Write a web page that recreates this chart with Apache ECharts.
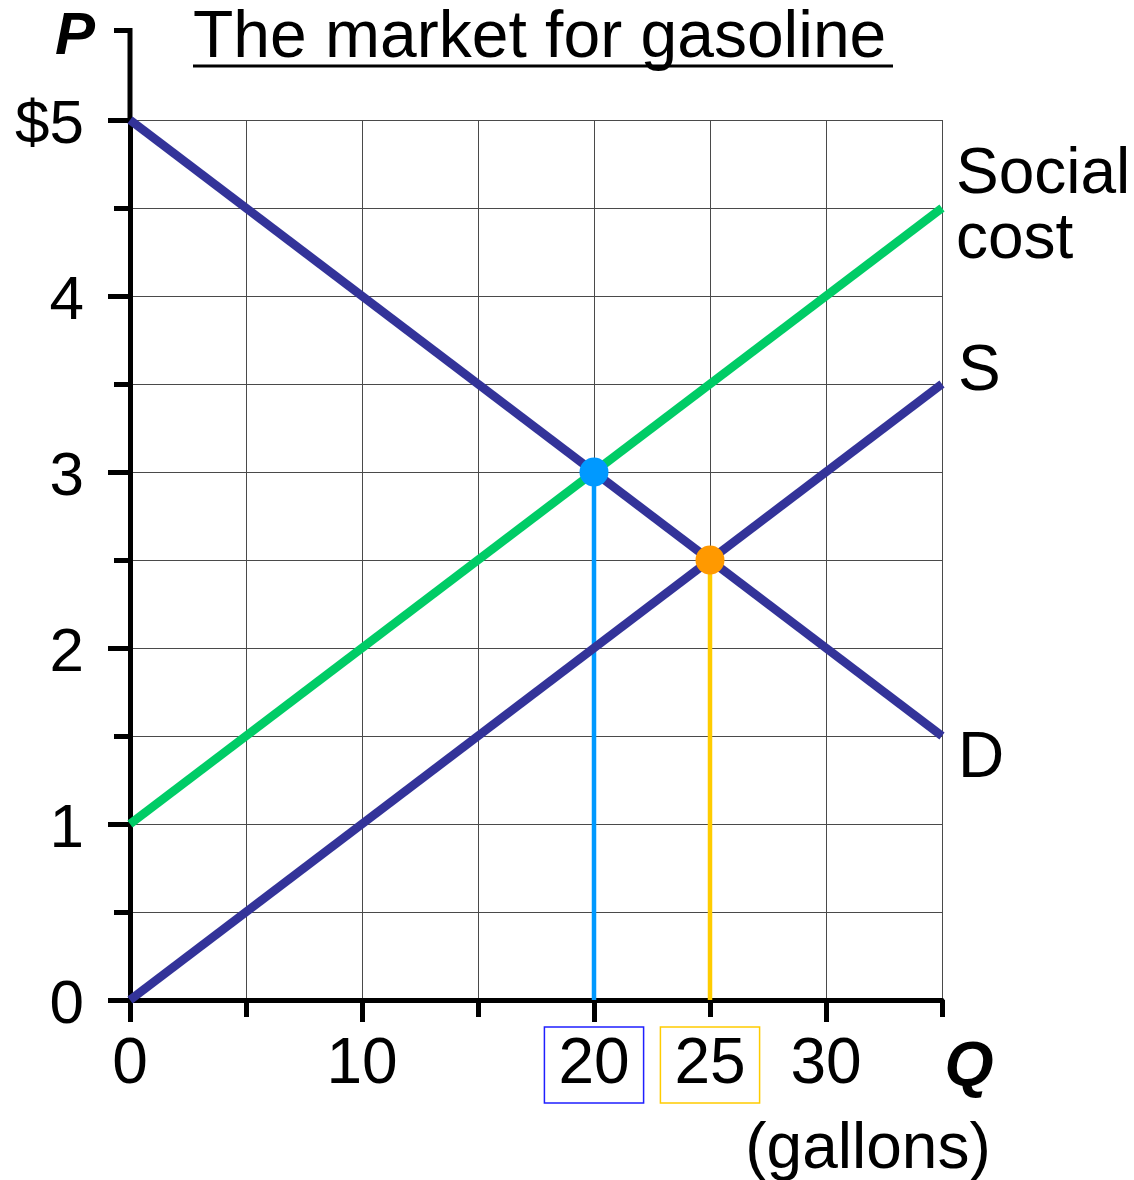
<!DOCTYPE html>
<html>
<head>
<meta charset="utf-8">
<script src="https://cdn.jsdelivr.net/npm/echarts@6/dist/echarts.min.js"></script>
<style>
html,body{margin:0;padding:0;background:#fff;}
#chart{width:1134px;height:1180px;}
</style>
</head>
<body>
<div id="chart"></div>
<script>
// ---- data ----
const titleText = 'The market for gasoline';
const qMin = 0, qMax = 35, qStep = 5;
const pMin = 0, pMax = 5, pStep = 1;
const qLabelValues = [0, 10, 20, 25, 30];
const qMajorTicks = [0, 10, 20, 30];
const pTickLabels = ['0', '1', '2', '3', '4', '$5'];
const demandQ = [0, 35];
const demandP = [5, 1.5];
const supplyQ = [0, 35];
const supplyP = [0, 3.5];
const socialQ = [0, 35];
const socialP = [1, 4.5];
const efficientPoint = [20, 3];
const marketPoint = [25, 2.5];
const curveNames = { social: 'Social\ncost', supply: 'S', demand: 'D' };

const FONT = '"Liberation Sans", Arial, Helvetica, sans-serif';
const pair = (xs, ys) => xs.map((x, i) => [x, ys[i]]);

const chart = echarts.init(document.getElementById('chart'), null, { renderer: 'canvas' });

const gridStyle = { color: '#4a4a4a', width: 1 };
const axisBlack = { color: '#000', width: 5 };

const option = {
  animation: false,
  backgroundColor: '#fff',
  grid: { left: 130, right: 192, top: 120, bottom: 180, containLabel: false },
  xAxis: [
    {
      type: 'value', min: qMin, max: qMax, interval: qStep,
      position: 'bottom',
      axisLine: { show: true, onZero: false, lineStyle: axisBlack },
      axisTick: { show: true, length: 17, lineStyle: axisBlack },
      splitLine: { show: true, lineStyle: gridStyle },
      axisLabel: {
        show: true, margin: 33, color: '#000',
        formatter: v => {
          if (!qLabelValues.includes(v)) return '';
          if (v === efficientPoint[0]) return '{b|' + v + '}';
          if (v === marketPoint[0]) return '{y|' + v + '}';
          return '{n|' + v + '}';
        },
        rich: {
          n: { fontSize: 64, fontFamily: FONT, color: '#000', lineHeight: 64, padding: [6, 14, 6, 14] },
          b: { fontSize: 64, fontFamily: FONT, color: '#000', lineHeight: 64, padding: [6, 14, 6, 14], borderColor: '#1f1fff', borderWidth: 1.5 },
          y: { fontSize: 64, fontFamily: FONT, color: '#000', lineHeight: 64, padding: [6, 14, 6, 14], borderColor: '#ffcc00', borderWidth: 1.5 }
        }
      }
    },
    {
      type: 'value', min: qMin, max: qMax, position: 'bottom', offset: 0,
      axisLine: { show: false },
      axisTick: { show: true, length: 22, lineStyle: axisBlack, customValues: qMajorTicks },
      axisLabel: { show: false },
      splitLine: { show: false }
    }
  ],
  yAxis: {
    type: 'value', min: pMin, max: pMax, interval: pStep,
    axisLine: { show: true, onZero: false, lineStyle: axisBlack },
    axisTick: { show: true, length: 22, lineStyle: axisBlack },
    minorTick: { show: true, splitNumber: 2, length: 16, lineStyle: axisBlack },
    splitLine: { show: true, lineStyle: gridStyle },
    minorSplitLine: { show: true, lineStyle: gridStyle },
    axisLabel: {
      show: true, margin: 46, color: '#000',
      formatter: v => '{p|' + (pTickLabels[Math.round(v)] || '') + '}',
      rich: {
        p: { fontSize: 62, fontFamily: FONT, color: '#000', lineHeight: 62, padding: [12, 0, 0, 0] }
      }
    }
  },
  series: [
    {
      type: 'line', data: pair([efficientPoint[0], efficientPoint[0]], [efficientPoint[1], 0]),
      symbol: 'none', clip: false, lineStyle: { color: '#0099ff', width: 4.5 }, z: 2
    },
    {
      type: 'line', data: pair([marketPoint[0], marketPoint[0]], [marketPoint[1], 0]),
      symbol: 'none', clip: false, lineStyle: { color: '#ffcc00', width: 4.5 }, z: 2
    },
    {
      type: 'line', data: pair(socialQ, socialP), symbol: 'none', clip: false,
      lineStyle: { color: '#00cc66', width: 8.5 }, z: 3,
      endLabel: { show: true, formatter: curveNames.social, distance: 14, color: '#000',
        fontSize: 64, lineHeight: 65, fontFamily: FONT, align: 'left' }
    },
    {
      type: 'line', data: pair(supplyQ, supplyP), symbol: 'none', clip: false,
      lineStyle: { color: '#333399', width: 8.5 }, z: 4,
      endLabel: { show: true, formatter: curveNames.supply, distance: 16, color: '#000',
        fontSize: 64, fontFamily: FONT, offset: [0, -12] }
    },
    {
      type: 'line', data: pair(demandQ, demandP), symbol: 'none', clip: false,
      lineStyle: { color: '#333399', width: 8.5 }, z: 4,
      endLabel: { show: true, formatter: curveNames.demand, distance: 16, color: '#000',
        fontSize: 64, fontFamily: FONT, offset: [0, 23] }
    },
    {
      type: 'scatter', data: [efficientPoint], symbolSize: 29, clip: false,
      itemStyle: { color: '#0099ff', opacity: 1 }, z: 6
    },
    {
      type: 'scatter', data: [marketPoint], symbolSize: 29, clip: false,
      itemStyle: { color: '#ff9900', opacity: 1 }, z: 6
    }
  ],
  graphic: [
    { type: 'text', left: 193, top: 6, style: { text: titleText, font: '66px ' + FONT, fill: '#000' } },
    { type: 'rect', shape: { x: 193, y: 64.5, width: 700, height: 3 }, style: { fill: '#000' } },
    { type: 'text', x: 75, y: 37, style: { text: 'P', font: 'italic bold 60px ' + FONT, fill: '#000', align: 'center', verticalAlign: 'middle' } },
    { type: 'text', x: 969, y: 1068, style: { text: 'Q', font: 'italic bold 63px ' + FONT, fill: '#000', align: 'center', verticalAlign: 'middle' } },
    { type: 'text', x: 868, y: 1150, style: { text: '(gallons)', font: '64px ' + FONT, fill: '#000', align: 'center', verticalAlign: 'middle' } },
    { type: 'line', shape: { x1: 130, y1: 28, x2: 130, y2: 122 }, style: { stroke: '#000', lineWidth: 5 } },
    { type: 'line', shape: { x1: 114, y1: 30.5, x2: 130, y2: 30.5 }, style: { stroke: '#000', lineWidth: 5 } }
  ]
};
chart.setOption(option);
</script>
</body>
</html>
